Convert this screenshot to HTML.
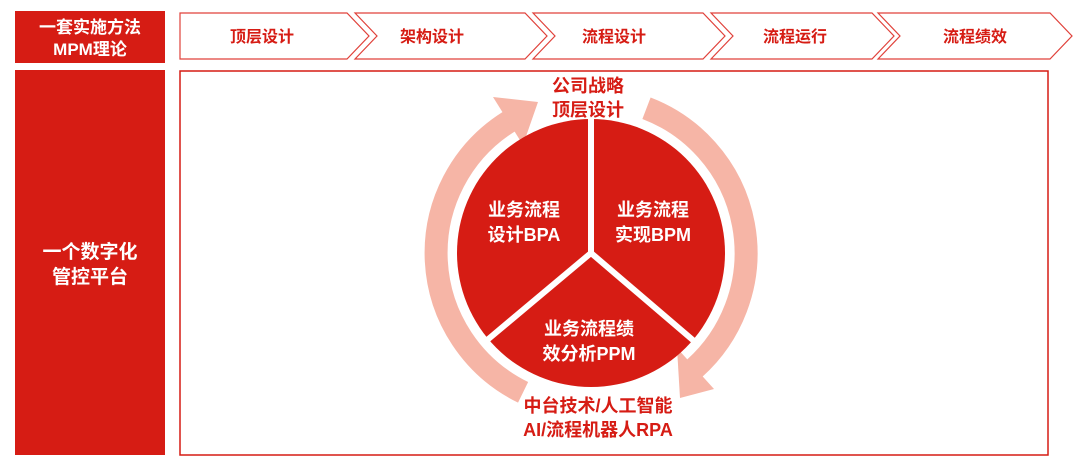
<!DOCTYPE html>
<html><head><meta charset="utf-8"><style>
body{margin:0;width:1080px;height:471px;background:#fff;overflow:hidden;font-family:"Liberation Sans","Noto Sans CJK SC",sans-serif}
</style></head><body>
<svg width="1080" height="471" viewBox="0 0 1080 471" xmlns="http://www.w3.org/2000/svg" style="position:absolute;left:0;top:0">
<rect x="15" y="11" width="150" height="52" fill="#d61c14"/>
<text x="90" y="33" fill="#fff" font-size="17" font-weight="bold" text-anchor="middle" font-family="Liberation Sans,Noto Sans CJK SC,sans-serif">一套实施方法</text>
<text x="90" y="55" fill="#fff" font-size="17" font-weight="bold" text-anchor="middle" font-family="Liberation Sans,Noto Sans CJK SC,sans-serif">MPM理论</text>
<rect x="15" y="70" width="150" height="385" fill="#d61c14"/>
<text x="90" y="258" fill="#fff" font-size="19" font-weight="bold" text-anchor="middle" font-family="Liberation Sans,Noto Sans CJK SC,sans-serif">一个数字化</text>
<text x="90" y="283" fill="#fff" font-size="19" font-weight="bold" text-anchor="middle" font-family="Liberation Sans,Noto Sans CJK SC,sans-serif">管控平台</text>
<rect x="180" y="71" width="868" height="384" fill="none" stroke="#d61c14" stroke-width="1.5"/>
<g fill="none" stroke="#e0413a" stroke-width="1.2">
<polygon points="180,13 347,13 369,36 347,59 180,59"/>
<polygon points="355,13 525,13 547,36 525,59 355,59 377,36"/>
<polygon points="533,13 703,13 725,36 703,59 533,59 555,36"/>
<polygon points="711,13 872,13 894,36 872,59 711,59 733,36"/>
<polygon points="878,13 1050,13 1072,36 1050,59 878,59 900,36"/>
</g>
<g fill="#d61c14" font-size="16" font-weight="bold" text-anchor="middle" font-family="Liberation Sans,Noto Sans CJK SC,sans-serif">
<text x="262" y="42">顶层设计</text>
<text x="432" y="42">架构设计</text>
<text x="614" y="42">流程设计</text>
<text x="795" y="42">流程运行</text>
<text x="975" y="42">流程绩效</text>
</g>
<g fill="none" stroke="#f6b5a6" stroke-width="23">
<path d="M523.1,392.3 A155,155 0 0 1 508.9,121.6"/>
<path d="M646.5,108.2 A155,155 0 0 1 694.7,368.2"/>
</g>
<polygon points="523,145 493,97 538,102" fill="#f6b5a6"/>
<polygon points="677,348 714,389 680,398" fill="#f6b5a6"/>
<circle cx="591" cy="253" r="134" fill="#d61c14"/>
<g stroke="#fff" stroke-width="6">
<line x1="591" y1="253" x2="591" y2="115"/>
<line x1="591" y1="253" x2="486" y2="341"/>
<line x1="591" y1="253" x2="694" y2="341"/>
</g>
<g fill="#fff" font-size="18" font-weight="bold" text-anchor="middle" font-family="Liberation Sans,Noto Sans CJK SC,sans-serif">
<text x="524" y="216">业务流程</text>
<text x="524" y="241">设计BPA</text>
<text x="653" y="216">业务流程</text>
<text x="653" y="241">实现BPM</text>
<text x="589" y="335">业务流程绩</text>
<text x="589" y="360">效分析PPM</text>
</g>
<g fill="#d61c14" font-size="18" font-weight="bold" text-anchor="middle" font-family="Liberation Sans,Noto Sans CJK SC,sans-serif">
<text x="588" y="92">公司战略</text>
<text x="588" y="116">顶层设计</text>
<text x="598" y="412">中台技术/人工智能</text>
<text x="598" y="436">AI/流程机器人RPA</text>
</g>
</svg>
</body></html>
